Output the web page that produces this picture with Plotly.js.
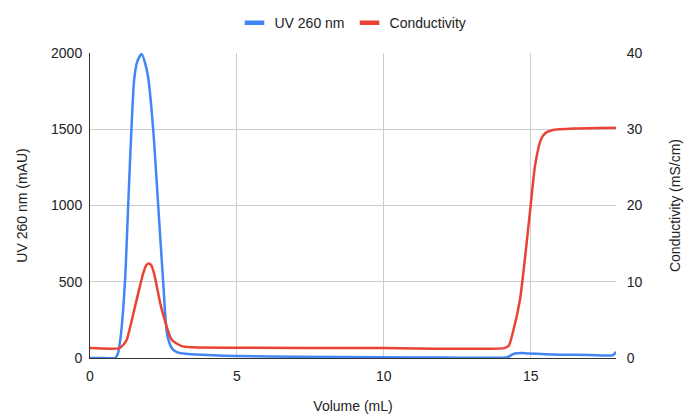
<!DOCTYPE html>
<html><head><meta charset="utf-8">
<script src="https://cdn.plot.ly/plotly-3.0.1.min.js"></script>
<style>html,body{margin:0;padding:0;background:#fff}#chart{width:686px;height:414px}</style>
</head><body><div id="chart"></div>
<script>
var uvVolume = [0,0.5,0.85,0.95,1.05,1.19,1.30,1.41,1.51,1.62,1.76,1.88,1.98,2.15,2.32,2.49,2.63,2.8,3.0,3.5,4,5,7,10,12,14,14.2,14.45,14.7,14.9,15.5,16,17,17.8,17.9];
var uvValues = [0,0,0,30,150,500,1003,1500,1839,1950,1993,1930,1839,1500,1003,500,150,60,35,24,19,13,8,5,3,2,5,30,33,30,25,22,20,19,41];
var condVolume = [0,1.0,1.15,1.25,1.53,1.81,1.92,2.0,2.08,2.18,2.42,2.78,3.1,3.5,5,10,14.1,14.25,14.4,14.63,14.8,14.99,15.14,15.34,15.5,15.75,16.5,17.9];
var condValues = [1.3,1.3,1.8,2.4,6.7,11.1,12.2,12.4,12.2,11.1,6.7,2.4,1.6,1.4,1.35,1.3,1.3,1.6,3.5,7.6,13,19.8,25.1,28.6,29.5,29.9,30.1,30.2];
var xTicks = [0,5,10,15];
var yLeftTicks = [0,500,1000,1500,2000];
var yRightTicks = [0,10,20,30,40];
var seriesNames = ['UV 260 nm','Conductivity'];
var seriesColors = ['#4285F4','#EA4335'];

var font = {family:'Arial, "Liberation Sans", sans-serif', size:14, color:'#222'};
var traces = [
  {x:uvVolume, y:uvValues, name:seriesNames[0], type:'scatter', mode:'lines', showlegend:false,
   line:{color:seriesColors[0], width:2.5, shape:'spline', smoothing:0.7}, yaxis:'y'},
  {x:condVolume, y:condValues, name:seriesNames[1], type:'scatter', mode:'lines', showlegend:false,
   line:{color:seriesColors[1], width:2.5, shape:'spline', smoothing:0.6}, yaxis:'y2'}
];
// legend-only entries (no data drawn) to get short rectangular legend swatches
seriesNames.forEach(function(n,i){
  traces.push({x:[null], y:[null], name:n, type:'scatter', mode:'markers', showlegend:true,
    marker:{symbol:'line-ew', size:14, color:seriesColors[i], line:{width:4.5, color:seriesColors[i]}}});
});
var layout = {
  width:686, height:414,
  margin:{l:90, r:70, t:53, b:56},
  paper_bgcolor:'#fff', plot_bgcolor:'#fff',
  font:font,
  showlegend:true,
  legend:{orientation:'h', x:0.5, xanchor:'center', xref:'paper', y:0.944, yref:'container', yanchor:'middle', font:font, itemwidth:30},
  xaxis:{range:[0,17.9], tickvals:xTicks, ticktext:xTicks.map(String), showgrid:true, gridcolor:'#cccccc', gridwidth:1,
    showline:true, linecolor:'#333', linewidth:1, zeroline:false, ticks:'outside', ticklen:5, tickcolor:'rgba(0,0,0,0)',
    title:{text:'Volume (mL)', font:font, standoff:20}, automargin:false},
  yaxis:{range:[0,2000], tickvals:yLeftTicks, ticktext:yLeftTicks.map(String), showgrid:true, gridcolor:'#cccccc', gridwidth:1,
    showline:true, linecolor:'#333', linewidth:1, zeroline:false, ticks:'outside', ticklen:4, tickcolor:'rgba(0,0,0,0)',
    title:{text:'UV 260 nm (mAU)', font:font, standoff:20}, automargin:false},
  yaxis2:{range:[0,40], tickvals:yRightTicks, ticktext:yRightTicks.map(String), overlaying:'y', side:'right', showgrid:false,
    showline:false, zeroline:false, ticks:'outside', ticklen:7, tickcolor:'rgba(0,0,0,0)',
    title:{text:'Conductivity (mS/cm)', font:font, standoff:28}, automargin:false}
};
Plotly.newPlot('chart', traces, layout, {displayModeBar:false, staticPlot:true});
</script></body></html>
